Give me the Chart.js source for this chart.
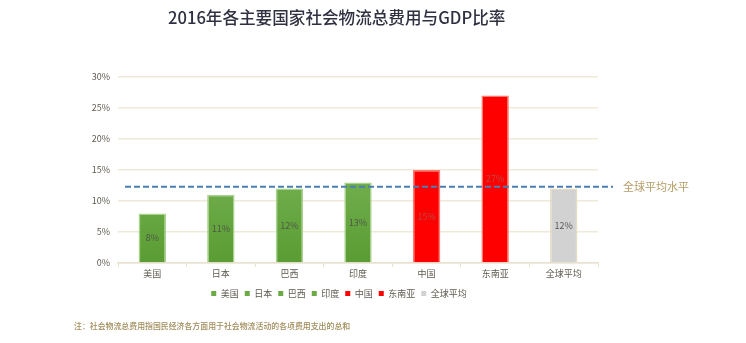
<!DOCTYPE html>
<html><head><meta charset="utf-8">
<script src="https://cdn.jsdelivr.net/npm/chart.js@4/dist/chart.umd.min.js"></script>
<style>
html,body{margin:0;padding:0;background:#fff;}
#wrap{position:relative;width:746px;height:343px;overflow:hidden;}
#title{position:absolute;left:168px;top:5px;font:500 16.6px "Noto Sans CJK SC",sans-serif;color:#2f3140;white-space:nowrap;}
#note{position:absolute;left:74px;top:320px;font:500 7.9px "Noto Sans CJK SC",sans-serif;color:#a08c5a;white-space:nowrap;}
canvas{position:absolute;left:0;top:0;}
</style></head>
<body><div id="wrap">
<canvas id="c" width="746" height="343"></canvas>
<div id="title">2016年各主要国家社会物流总费用与GDP比率</div>
<div id="note">注：社会物流总费用指国民经济各方面用于社会物流活动的各项费用支出的总和</div>
</div>
<script>
const categories = ['美国','日本','巴西','印度','中国','东南亚','全球平均'];
const ratios = [8, 11, 12, 13, 15, 27, 12];
const groups = ['green','green','green','green','red','red','gray'];
const globalAvgLine = 12.3;
const globalAvgLabel = '全球平均水平';
const yTicks = [0, 5, 10, 15, 20, 25, 30];

const FONT = '"Noto Sans CJK SC", sans-serif';
const TXT = '#5f5a50';

function fillFor(group, chart) {
  if (group === 'red') return '#ff0000';
  if (group === 'gray') return '#d2d2d2';
  const a = chart.chartArea;
  if (!a) return '#6aab46';
  const g = chart.ctx.createLinearGradient(0, a.top, 0, a.bottom);
  g.addColorStop(0, '#8cc56c');
  g.addColorStop(1, '#5a9c33');
  return g;
}
function borderFor(group) {
  if (group === 'red') return '#ff7a6a';
  if (group === 'gray') return '#e6dcc2';
  return '#a9d38c';
}
const legendColor = {green: '#6aab46', red: '#ff0000', gray: '#d2d2d2'};

const avgLinePlugin = {
  id: 'avgLine',
  afterDatasetsDraw(chart) {
    const ctx = chart.ctx, a = chart.chartArea;
    const y = chart.scales.y.getPixelForValue(globalAvgLine);
    ctx.save();
    ctx.strokeStyle = '#4a7fb3';
    ctx.lineWidth = 2;
    ctx.setLineDash([6, 3]);
    ctx.beginPath();
    ctx.moveTo(a.left + 7, y);
    ctx.lineTo(a.right + 15, y);
    ctx.stroke();
    ctx.setLineDash([]);
    ctx.fillStyle = '#b49c66';
    ctx.font = '11px ' + FONT;
    ctx.textBaseline = 'middle';
    ctx.textAlign = 'left';
    ctx.fillText(globalAvgLabel, a.right + 25, y);
    ctx.restore();
  }
};
const valueLabelPlugin = {
  id: 'valueLabels',
  afterDatasetsDraw(chart) {
    const ctx = chart.ctx;
    const meta = chart.getDatasetMeta(0);
    ctx.save();
    ctx.font = '9px ' + FONT;
    ctx.textAlign = 'center';
    ctx.textBaseline = 'middle';
    meta.data.forEach((bar, i) => {
      ctx.fillStyle = groups[i] === 'red' ? '#b84848' : '#4d5a45';
      if (groups[i] === 'gray') ctx.fillStyle = '#5a5a5a';
      ctx.fillText(ratios[i] + '%', bar.x, (bar.y + bar.base) / 2);
    });
    ctx.restore();
  }
};

new Chart(document.getElementById('c'), {
  type: 'bar',
  data: {
    labels: categories,
    datasets: [{
      data: ratios,
      backgroundColor: (ctx) => fillFor(groups[ctx.dataIndex], ctx.chart),
      borderColor: categories.map((_, i) => borderFor(groups[i])),
      borderWidth: 1.5,
      categoryPercentage: 1,
      barPercentage: 0.4
    }]
  },
  options: {
    responsive: false,
    animation: false,
    devicePixelRatio: 1,
    layout: {padding: {left: 80, right: 148, top: 77, bottom: 35}},
    plugins: {
      tooltip: {enabled: false},
      title: {display: false},
      legend: {
        position: 'bottom',
        labels: {
          boxWidth: 5, boxHeight: 5, padding: 6,
          font: {size: 9, family: FONT}, color: TXT,
          generateLabels: () => categories.map((c, i) => ({
            text: c, fillStyle: legendColor[groups[i]], strokeStyle: legendColor[groups[i]],
            lineWidth: 0, hidden: false, index: i, fontColor: TXT
          }))
        },
        onClick: () => {}
      }
    },
    scales: {
      x: {
        offset: true,
        grid: {display: true, drawOnChartArea: false, drawTicks: true, tickLength: 4, color: '#e8e1cf', offset: true, lineWidth: 1},
        border: {color: '#e8e1cf', width: 1.5},
        ticks: {font: {size: 9, family: FONT}, color: TXT, padding: 1},
        afterFit: (s) => { s.height = 20; }
      },
      y: {
        min: 0, max: 30,
        afterBuildTicks: (s) => { s.ticks = yTicks.map(v => ({value: v})); },
        grid: {color: '#efe9da', lineWidth: 1.5, drawTicks: false},
        border: {display: false},
        ticks: {font: {size: 9, family: FONT}, color: TXT, padding: 8, callback: (v) => v + '%'},
        afterFit: (s) => { s.width = 38; }
      }
    }
  },
  plugins: [avgLinePlugin, valueLabelPlugin]
});
</script>
</body></html>
